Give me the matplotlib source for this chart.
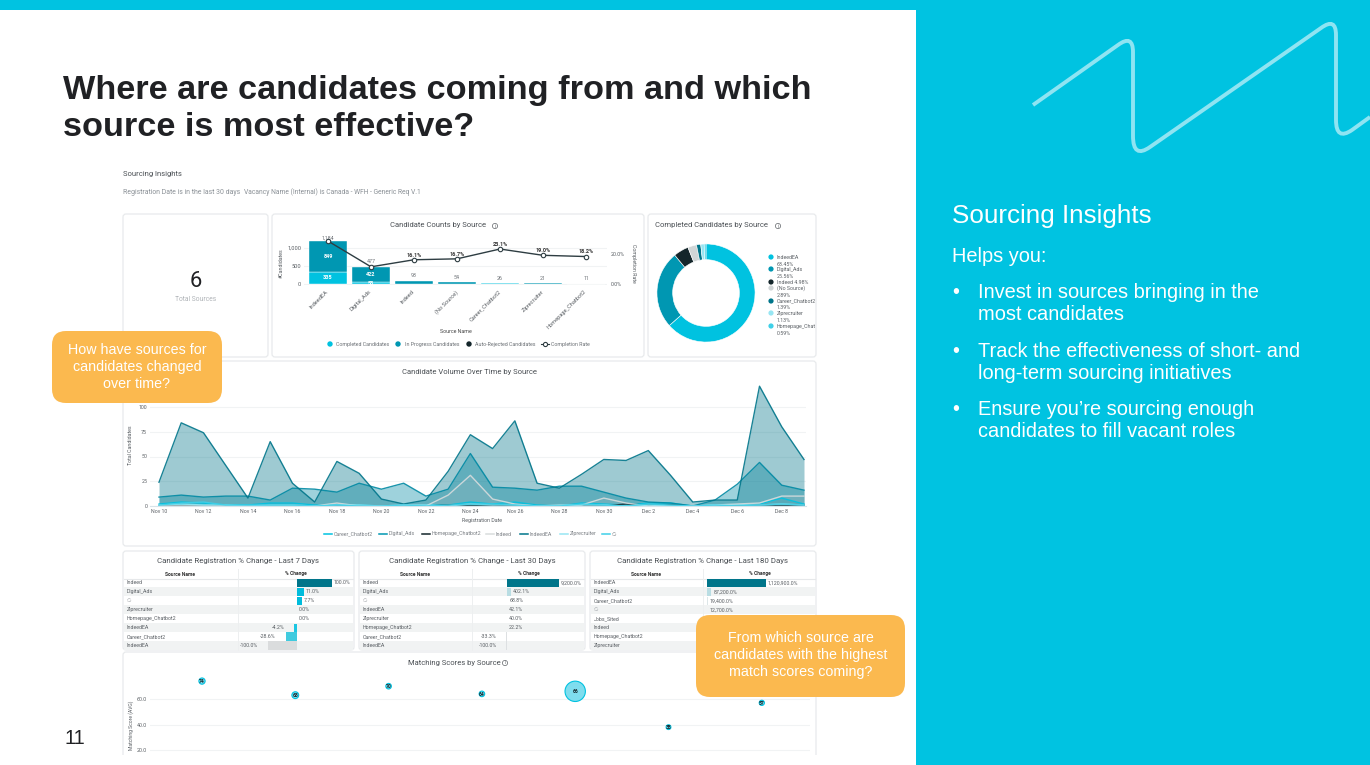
import matplotlib
matplotlib.use("Agg")
import matplotlib.pyplot as plt
from matplotlib.patches import FancyBboxPatch, Rectangle, Circle, PathPatch
from matplotlib.path import Path
from matplotlib.transforms import ScaledTranslation

# ---------- data ----------
count_sources = ["IndeedEA", "Digital_Ads", "Indeed", "(No Source)", "Career_Chatbot2", "Ziprecruiter", "Homepage_Chatbot2"]
completed = [335, 55, 10, 6, 14, 12, 7]
in_progress = [849, 422, 83, 48, 12, 9, 4]
total_labels = ["1,184", "477", "93", "54", "26", "21", "11"]
completion_rate = [28.3, 11.5, 16.1, 16.7, 23.1, 19.0, 18.2]
rate_labels = ["", "", "16.1%", "16.7%", "23.1%", "19.0%", "18.2%"]

donut_names = ["IndeedEA", "Digital_Ads", "Indeed", "(No Source)", "Career_Chatbot2", "Ziprecruiter", "Homepage_Chat"]
donut_values = [63.45, 25.56, 4.98, 2.89, 1.39, 1.13, 0.59]

area_ticks = ["Nov 10", "Nov 12", "Nov 14", "Nov 16", "Nov 18", "Nov 20", "Nov 22", "Nov 24", "Nov 26", "Nov 28",
              "Nov 30", "Dec 2", "Dec 4", "Dec 6", "Dec 8"]
indeed_ea = [24, 84, 74, 41, 8, 65, 23, 4, 45, 33, 7, 2, 6, 35, 72, 58, 86, 23, 18, 32, 47, 46, 56, 31, 4, 6, 6, 121, 80, 47]
digital_ads = [9, 11, 9, 10, 10, 6, 18, 17, 14, 23, 17, 23, 10, 17, 53, 19, 18, 16, 20, 20, 14, 8, 4, 3, 0, 6, 22, 44, 21, 16]
indeed = [0, 0, 0, 0, 0, 0, 0, 0, 3, 0, 0, 0, 0, 11, 31, 7, 2, 0, 0, 1, 8, 3, 0, 0, 0, 1, 2, 3, 10, 10]
career = [2, 4, 3, 1, 1, 3, 3, 1, 1, 1, 0, 0, 1, 1, 4, 2, 4, 1, 0, 3, 2, 1, 3, 3, 0, 1, 1, 2, 8, 2]
homepage = [0, 0, 0, 0, 0, 0, 0, 0, 0, 0, 0, 0, 0, 1, 1, 1, 0, 0, 0, 0, 0, 2, 1, 1, 0, 0, 0, 1, 1, 1]
ziprecruiter = [1, 2, 1, 1, 0, 1, 1, 0, 1, 1, 0, 1, 1, 0, 2, 1, 1, 0, 1, 1, 1, 0, 1, 0, 0, 1, 1, 1, 2, 1]
no_source = [1, 3, 4, 1, 1, 1, 1, 0, 1, 0, 0, 1, 0, 1, 2, 2, 1, 0, 0, 2, 1, 0, 2, 1, 0, 1, 0, 1, 2, 1]

t7_names = ["Indeed", "Digital_Ads", "∅", "Ziprecruiter", "Homepage_Chatbot2", "IndeedEA", "Career_Chatbot2", "IndeedEA"]
t7_vals = [100.0, 11.0, 7.7, 0.0, 0.0, -4.2, -28.6, -100.0]
t30_names = ["Indeed", "Digital_Ads", "∅", "IndeedEA", "Ziprecruiter", "Homepage_Chatbot2", "Career_Chatbot2", "IndeedEA"]
t30_vals = [9200.0, 402.1, 68.8, 42.1, 40.0, 22.2, -33.3, -100.0]
t180_names = ["IndeedEA", "Digital_Ads", "Career_Chatbot2", "∅", "Jobs_Sited", "Indeed", "Homepage_Chatbot2", "Ziprecruiter"]
t180_vals = [1120900.0, 87200.0, 19400.0, 12700.0, None, None, None, None]

score_vals = [74, 63, 70, 64, 66, 38, 57]
score_sizes = [20, 24, 16, 16, 215, 12, 14]
score_ticks = [60, 40, 20]

# ---------- style ----------
CYAN = "#00C3E1"; ORANGE = "#FBB94F"; BORDER = "#E8EAEC"; DARK = "#202124"; GREY = "#5F6368"
C_COMP = "#00C2E0"; C_PROG = "#0097B2"; C_REJ = "#14262B"; C_EA = "#00758A"; C_LIGHT = "#97E6F3"; C_GREY = "#D8DCDD"; C_NS = "#3FD0E8"
plt.rcParams["font.family"] = ["Roboto", "DejaVu Sans"]
W, H = 1370, 765
fig = plt.figure(figsize=(W / 100, H / 100), dpi=100, facecolor="white")


def ax_px(x0, y0, x1, y1, z=2):
    a = fig.add_axes([x0 / W, 1 - y1 / H, (x1 - x0) / W, (y1 - y0) / H], zorder=z)
    a.patch.set_alpha(0)
    return a


def px(sz):
    return sz * 0.72


bg = ax_px(0, 0, W, H, 0)
bg.set_xlim(0, W); bg.set_ylim(H, 0); bg.axis("off")
top = ax_px(0, 0, W, H, 6)
top.set_xlim(0, W); top.set_ylim(H, 0); top.axis("off")


def T(a, x, y, s, size, color=GREY, ha="left", va="center", **kw):
    return a.text(x, y, s, fontsize=px(size), color=color, ha=ha, va=va, **kw)


# slide background
bg.add_patch(Rectangle((916, 0), W - 916, H, fc=CYAN, ec="none"))
bg.add_patch(Rectangle((0, 0), W, 10, fc=CYAN, ec="none"))

# zig-zag decoration
verts = [(1033, 105), (1118, 45), (1133, 34), (1133, 52), (1133, 136), (1133, 159), (1150, 147), (1321, 28), (1336, 17),
         (1336, 35), (1336, 120), (1336, 141), (1352, 130), (1370, 117)]
codes = [Path.MOVETO, Path.LINETO, Path.CURVE3, Path.CURVE3, Path.LINETO, Path.CURVE3, Path.CURVE3, Path.LINETO,
         Path.CURVE3, Path.CURVE3, Path.LINETO, Path.CURVE3, Path.CURVE3, Path.LINETO]
bg.add_patch(PathPatch(Path(verts, codes), fc="none", ec="#8FE4F2", lw=2.8, capstyle="butt"))

# heading
SANS = "Liberation Sans"
T(bg, 63, 90, "Where are candidates coming from and which", 34.3, "#202124", family=SANS, weight="bold")
T(bg, 63, 127, "source is most effective?", 34.3, "#202124", family=SANS, weight="bold")
T(bg, 64, 738, "11", 20, "#202124", family=SANS)

# right text
T(bg, 952, 216, "Sourcing Insights", 26, "white", family=SANS)
T(bg, 952, 256, "Helps you:", 20, "white", family=SANS)
for y, s in [(292, "Invest in sources bringing in the"), (314, "most candidates"),
             (351, "Track the effectiveness of short- and"), (373, "long-term sourcing initiatives"),
             (409, "Ensure you’re sourcing enough"), (431, "candidates to fill vacant roles")]:
    T(bg, 978, y, s, 20, "white", family=SANS)
for y in (292, 351, 409):
    T(bg, 952, y, "•", 20, "white", family=SANS)

# dashboard header
T(bg, 123, 174, "Sourcing Insights", 7.6, "#4A4F54")
T(bg, 123, 192, "Registration Date is in the last 30 days", 6.9, "#8A9096")
T(bg, 244, 192, "Vacancy Name (Internal) is Canada - WFH - Generic Req V.1", 6.8, "#8A9096")


def panel(x0, y0, x1, y1):
    bg.add_patch(FancyBboxPatch((x0 + 3, y0 + 3), x1 - x0 - 6, y1 - y0 - 6, boxstyle="round,pad=3,rounding_size=3",
                                fc="white", ec=BORDER, lw=0.9))


for b in [(123, 214, 268, 357), (272, 214, 644, 357), (648, 214, 816, 357), (123, 361, 816, 546),
          (123, 551, 354, 650), (359, 551, 585, 650), (590, 551, 816, 650), (123, 652, 816, 790)]:
    panel(*b)
bg.add_patch(Rectangle((100, 755), 800, 10, fc="white", ec="none", zorder=3))


def info(x, y):
    bg.add_patch(Circle((x, y), 2.6, fc="none", ec=GREY, lw=0.5))
    T(bg, x, y, "i", 4.5, GREY, ha="center")


# KPI
T(bg, 195.5, 281, "6", 22, "#202124", ha="center")
T(bg, 195.5, 299, "Total Sources", 6.8, "#B0B4B8", ha="center")

# ---------- Candidate counts ----------
T(bg, 438, 225, "Candidate Counts by Source", 7.7, "#4A4F54", ha="center")
info(495, 226)
a = ax_px(304, 232, 607, 285)
xs = list(range(7))
a.bar(xs, completed, width=0.9, color=C_COMP, ec="white", lw=0.3)
a.bar(xs, in_progress, width=0.9, bottom=completed, color=C_PROG, ec="white", lw=0.3)
a.set_xlim(-0.558, 6.489)
a.set_ylim(-28, 1444)
a.set_yticks([0, 500, 1000], ["0", "500", "1,000"])
a.set_xticks(xs, count_sources, rotation=45, ha="right", rotation_mode="anchor")
a.tick_params(axis="both", length=0, labelsize=px(5.6), labelcolor="#5A5F64", pad=2)
a.tick_params(axis="x", pad=3)
off = ScaledTranslation(-2 / 100, 0, fig.dpi_scale_trans)
for lab in a.get_xticklabels():
    lab.set_transform(lab.get_transform() + off)
a.grid(axis="y", color="#F1F3F4", lw=0.8)
a.set_axisbelow(True)
for s in a.spines.values():
    s.set_visible(False)
for i, (c, p) in enumerate(zip(completed, in_progress)):
    if i < 2:
        a.text(i, p / 2 + c, f"{p}", ha="center", va="center", fontsize=px(5.5), color="white", weight="bold")
        a.text(i, c / 2, f"{c}", ha="center", va="center", fontsize=px(5.5), color="white", weight="bold")
    a.text(i, c + p + 70 if i else c + p + 10, total_labels[i], ha="center", va="bottom", fontsize=px(5.3), color="#6B7075")
a2 = a.twinx()
a2.patch.set_alpha(0)
a2.set_ylim(-0.36, 34.2)
a2.plot(xs, completion_rate, color="#2E3D42", lw=1, marker="o", ms=3.2, mfc="white", mec="#2E3D42", mew=0.8)
for i, s in enumerate(rate_labels):
    if s:
        a2.text(i, completion_rate[i] + 1.4, s, ha="center", va="bottom", fontsize=px(5.5), weight="bold", color="#333")
a2.set_yticks([0, 20], ["0.0%", "20.0%"])
a2.tick_params(axis="y", length=0, labelsize=px(5.4), labelcolor="#5A5F64", pad=3)
for s in a2.spines.values():
    s.set_visible(False)
T(bg, 281, 263, "#Candidates", 5.2, "#5A5F64", ha="center", rotation=90)
T(bg, 634, 263, "Completion Rate", 5.2, "#5A5F64", ha="center", rotation=270)
T(bg, 456, 331, "Source Name", 5.3, "#444", ha="center")
for xm, xt, s, col in [(330, 336, "Completed Candidates", C_COMP), (398, 405, "In Progress Candidates", C_PROG),
                       (469, 475, "Auto-Rejected Candidates", C_REJ)]:
    bg.add_patch(Circle((xm, 344), 2.7, fc=col, ec="none"))
    T(bg, xt, 344.5, s, 5.3, "#6B7075")
bg.plot([541, 549], [344, 344], color="#2E3D42", lw=0.8)
bg.plot([545], [344], marker="o", ms=3, mfc="white", mec="#2E3D42", mew=0.8)
T(bg, 551, 344.5, "Completion Rate", 5.3, "#6B7075")

# ---------- Donut ----------
T(bg, 655, 225, "Completed Candidates by Source", 7.7, "#4A4F54")
info(778, 226)
d = ax_px(654, 241, 758, 345)
donut_cols = [C_COMP, C_PROG, C_REJ, "#D0D5D6", C_EA, C_LIGHT, C_NS]
d.pie(donut_values, colors=donut_cols, startangle=90, counterclock=False, radius=1.0,
      wedgeprops=dict(width=0.32, ec="white", lw=0.4))
d.set_xlim(-1.06, 1.06); d.set_ylim(-1.06, 1.06)
leg = [(257, "IndeedEA"), (264, "63.45%"), (269, "Digital_Ads"), (276, "25.56%"), (282, "Indeed 4.98%"), (288, "(No Source)"),
       (295, "2.89%"), (301, "Career_Chatbot2"), (307, "1.39%"), (313, "Ziprecruiter"), (320, "1.13%"), (326, "Homepage_Chat"),
       (333, "0.59%")]
for y, s in leg:
    bg.text(777, y, s, fontsize=px(5.2), color="#5A5F64", va="center", clip_on=True,
            clip_path=Rectangle((640, 200), 175.5, 200, transform=bg.transData))
for y, c in zip([257, 269, 282, 288, 301, 313, 326], donut_cols):
    bg.add_patch(Circle((771, y), 2.6, fc=c, ec="none"))

# ---------- Area ----------
T(bg, 470, 372, "Candidate Volume Over Time by Source", 7.7, "#4A4F54", ha="center")
day = 22.25
ar = ax_px(150, 380, 806, 506)
days = list(range(30))
layers = [(career, C_COMP), (digital_ads, "#0089A3"), (homepage, "#1F3338"), (indeed, C_GREY), (indeed_ea, C_EA),
          (ziprecruiter, C_LIGHT), (no_source, C_NS)]
for vals, col in layers:
    ar.fill_between(days, vals, color=col, alpha=0.38, lw=0)
    ar.plot(days, vals, color=col, lw=1.0, alpha=0.9)
ar.set_xlim(-9 / day, 29 + 2 / day)
ar.set_ylim(0, 126 / 0.99)
ar.set_yticks([0, 25, 50, 75, 100])
ar.set_xticks(days[::2], area_ticks)
ar.tick_params(axis="both", length=0, labelsize=px(5.2), labelcolor="#5A5F64")
ar.tick_params(axis="x", pad=2.5)
ar.tick_params(axis="y", pad=2)
ar.grid(axis="y", color="#F1F3F4", lw=0.8)
ar.set_axisbelow(True)
for k, s in ar.spines.items():
    s.set_visible(k == "bottom")
ar.spines["bottom"].set_color("#D6E4EA")
T(bg, 131, 445, "Total Candidates", 5.2, "#5A5F64", ha="center", rotation=90)
T(bg, 482, 520.5, "Registration Date", 5.2, "#5A5F64", ha="center")
for x0, s, c in [(324, "Career_Chatbot2", C_COMP), (379, "Digital_Ads", C_PROG), (422, "Homepage_Chatbot2", C_REJ),
                 (486, "Indeed", C_GREY), (520, "IndeedEA", C_EA), (560, "Ziprecruiter", C_LIGHT), (602, "∅", C_NS)]:
    bg.plot([x0, x0 + 8], [534, 534], color=c, lw=1.1)
    T(bg, x0 + 10, 534, s, 5.2, "#7A7F84")


# ---------- Tables ----------
def table(x0, x1, xdiv, x_zero, title, names, vals, bar_cols, scale, label_fn, gap_neg):
    cx = (x0 + x1) / 2
    T(bg, cx, 561, title, 7.9, "#4A4F54", ha="center")
    T(bg, (x0 + xdiv) / 2, 574, "Source Name", 5.0, "#333", ha="center", weight="bold")
    T(bg, (xdiv + x1) / 2, 574, "% Change", 5.0, "#333", ha="center", weight="bold")
    bg.plot([x0 + 1, x1 - 1], [578.5, 578.5], color="#E6E8EA", lw=0.8)
    bg.plot([xdiv, xdiv], [569, 650], color="#EDEFF0", lw=0.7, zorder=2)
    n = len(names)
    rows = list(range(n))
    for r in rows[1::2]:
        bg.add_patch(Rectangle((x0 + 1, 578.5 + r * 8.93), x1 - x0 - 2, 8.93, fc="#F1F3F3", ec="none"))
    for r, s in enumerate(names):
        T(bg, x0 + 4, 583 + r * 8.93, s, 5.2, "#A0A4A8" if s == "∅" else "#5A5F64")
    t = ax_px(xdiv, 578.5, x1, 650)
    shown = [scale(v) if v is not None else 0 for v in vals]
    t.barh(rows, shown, height=0.92, color=bar_cols)
    t.set_ylim(n - 0.5, -0.5)
    t.set_xlim(xdiv - x_zero, x1 - x_zero)
    t.axis("off")
    for r, v in enumerate(vals):
        if v is None:
            continue
        w = shown[r]
        if v >= 0:
            t.text(max(w, 0) + 2, r, label_fn(v), fontsize=px(5.2), color="#5A5F64", va="center", ha="left")
        else:
            t.text(w - gap_neg, r, label_fn(v), fontsize=px(5.2), color="#5A5F64", va="center", ha="right")


def pct(v):
    return f"{v:,.1f}%"


def s7(v):
    return (1.107 if v > 0 else 0.92) * abs(v) ** 0.75 * (1 if v > 0 else -1) if v else 0


table(123, 354, 238, 297, "Candidate Registration % Change - Last 7 Days", t7_names, t7_vals,
      [C_EA, "#00BCDC", "#00BCDC", C_COMP, C_COMP, "#1CC6E2", "#40CBDF", "#DADCDD"], s7, pct, 10)


def s30(v):
    return 52 * v / 9200 * (1 if v > 1000 else 1.8) if v > 0 else -0.7


table(359, 585, 472, 506.7, "Candidate Registration % Change - Last 30 Days", t30_names, t30_vals,
      [C_EA, "#B9DDE3", "#DDE6E8", "#DDE6E8", "#DDE6E8", "#DDE6E8", "#DDE0E2", "#DDE0E2"], s30, pct, 9)


def s180(v):
    return 59 * v / 1120900


table(590, 816, 703, 706.7, "Candidate Registration % Change - Last 180 Days", t180_names, t180_vals,
      [C_EA, "#B9DDE3", "#DDE6E8", "#DDE6E8", "#DDE6E8", "#DDE6E8", "#DDE6E8", "#DDE6E8"], s180, pct, 9)

# ---------- Scatter ----------
T(bg, 454, 663, "Matching Scores by Source", 7.7, "#4A4F54", ha="center")
info(505, 663)
sc = ax_px(150, 656, 810, 755)
sx = list(range(7))
sc.scatter(sx, score_vals, s=score_sizes, color="#7FDDEE", edgecolor="#00C2E0", linewidth=0.8, clip_on=True)
for x, v in zip(sx, score_vals):
    sc.text(x, v - 0.5, str(v), fontsize=px(5), weight="bold", color="#14262B", ha="center", va="center")
sc.set_xlim((150 - 202) / 93.3, (810 - 202) / 93.3)
sc.set_ylim(60 - (755 - 699) / 1.28, 60 + (699 - 656) / 1.28)
sc.set_yticks(score_ticks, [f"{v:.1f}" for v in score_ticks])
sc.set_xticks([])
sc.tick_params(axis="y", length=0, labelsize=px(5.2), labelcolor="#5A5F64", pad=2)
sc.grid(axis="y", color="#F1F3F4", lw=0.8)
sc.set_axisbelow(True)
for s in sc.spines.values():
    s.set_visible(False)
T(bg, 131, 725, "Matching Score (AVG)", 5.0, "#5A5F64", ha="center", rotation=90)

# ---------- Callouts ----------
for x0, y0, x1, y1, lines, ys, xc in [
    (52, 331, 222, 403, ["How have sources for", "candidates changed", "over time?"], (350, 367, 384), 137),
    (696, 615, 905, 697, ["From which source are", "candidates with the highest", "match scores coming?"], (638, 655, 672), 800.5)]:
    top.add_patch(FancyBboxPatch((x0 + 14, y0 + 14), x1 - x0 - 28, y1 - y0 - 28,
                                 boxstyle="round,pad=14,rounding_size=14", fc=ORANGE, ec="none"))
    for s, y in zip(lines, ys):
        T(top, xc, y, s, 14.3, "white", ha="center", family=SANS)

fig.savefig("out.png", dpi=100, facecolor="white")
